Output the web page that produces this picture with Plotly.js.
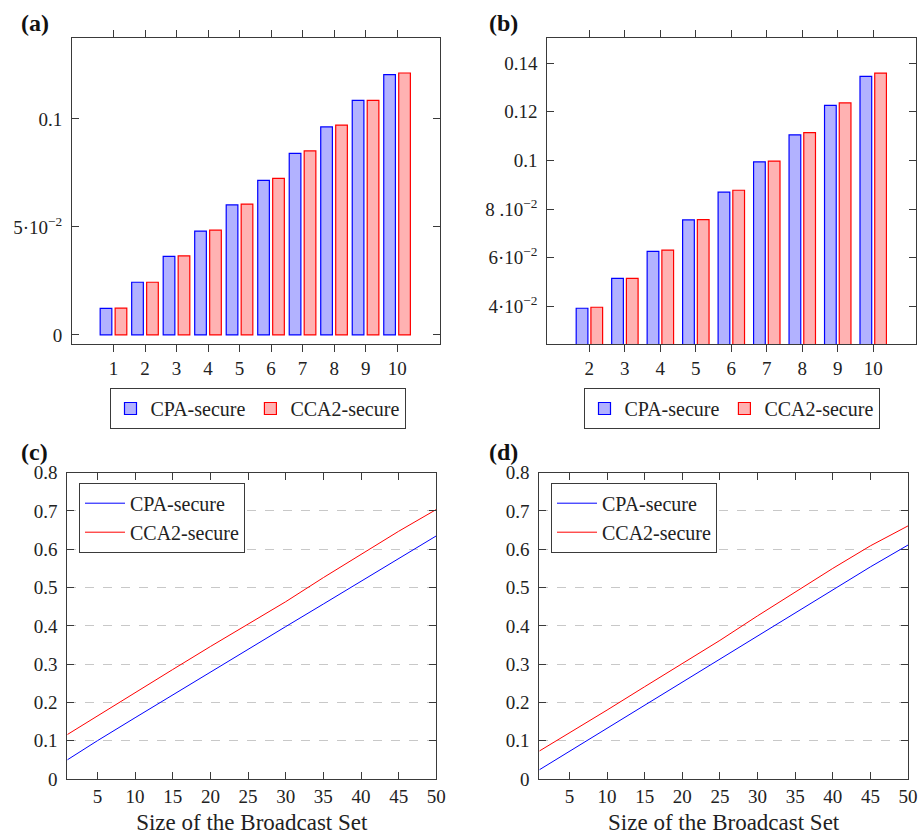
<!DOCTYPE html>
<html>
<head>
<meta charset="utf-8">
<script src="https://cdn.plot.ly/plotly-3.0.1.min.js"></script>
<style>html,body{margin:0;padding:0;background:#fff;}#chart{width:918px;height:835px;}</style>
</head>
<body>
<div id="chart"></div>
<script>
// ---- data ----
const seriesNames = ['CPA-secure', 'CCA2-secure'];

const setSizesA = [1, 2, 3, 4, 5, 6, 7, 8, 9, 10];
const cpaA  = [0.0123, 0.0244, 0.0364, 0.0481, 0.0602, 0.0716, 0.0841, 0.0963, 0.1086, 0.1205];
const cca2A = [0.0124, 0.0244, 0.0366, 0.0485, 0.0606, 0.0725, 0.0852, 0.0972, 0.1086, 0.1213];
const yTickValsA = [0, 0.05, 0.1];
const yTickTextA = ['0', '5·10<sup>−2</sup>', '0.1'];

const setSizesB = [2, 3, 4, 5, 6, 7, 8, 9, 10];
const cpaB  = [0.0392, 0.0515, 0.0626, 0.0755, 0.0869, 0.0994, 0.1105, 0.1226, 0.1345];
const cca2B = [0.0396, 0.0515, 0.0631, 0.0756, 0.0877, 0.0997, 0.1114, 0.1236, 0.1359];
const yTickValsB = [0.04, 0.06, 0.08, 0.1, 0.12, 0.14];
const yTickTextB = ['4·10<sup>−2</sup>', '6·10<sup>−2</sup>', '8 .10<sup>−2</sup>', '0.1', '0.12', '0.14'];

const setSizesLine = [1, 5, 10, 15, 20, 25, 30, 35, 40, 45, 50];
const cpaC  = [0.050, 0.100, 0.160, 0.220, 0.280, 0.340, 0.398, 0.457, 0.517, 0.577, 0.635];
const cca2C = [0.116, 0.165, 0.226, 0.286, 0.346, 0.405, 0.463, 0.526, 0.587, 0.647, 0.704];
const cpaD  = [0.024, 0.072, 0.133, 0.193, 0.253, 0.313, 0.372, 0.433, 0.494, 0.554, 0.611];
const cca2D = [0.073, 0.120, 0.180, 0.241, 0.302, 0.362, 0.426, 0.489, 0.550, 0.609, 0.661];
const xTickValsLine = [5, 10, 15, 20, 25, 30, 35, 40, 45, 50];
const xTitle = 'Size of the Broadcast Set';
const panelLabels = ['(a)', '(b)', '(c)', '(d)'];

// ---- styling ----
const FONT = 'Liberation Serif, Times New Roman, serif';
const BLUE = '#0000ff', RED = '#ff0000';
const BLUE_FILL = 'rgba(0,0,255,0.3)', RED_FILL = 'rgba(255,0,0,0.3)';
const FRAME = '#3a3a3a';

function barTrace(x, y, i, xa, ya, leg, offset, width) {
  return {
    type: 'bar', x: x, y: y, name: seriesNames[i], xaxis: xa, yaxis: ya, legend: leg,
    offset: offset, width: width,
    marker: {color: i === 0 ? BLUE_FILL : RED_FILL, line: {color: i === 0 ? BLUE : RED, width: 1.2}}
  };
}
function lineTrace(x, y, i, xa, ya, leg) {
  return {
    type: 'scatter', mode: 'lines', x: x, y: y, name: seriesNames[i], xaxis: xa, yaxis: ya, legend: leg,
    line: {color: i === 0 ? BLUE : RED, width: 1}
  };
}

const traces = [
  barTrace(setSizesA, cpaA, 0, 'x', 'y', 'legend', -0.425, 0.37),
  barTrace(setSizesA, cca2A, 1, 'x', 'y', 'legend', 0.05, 0.37),
  barTrace(setSizesB, cpaB, 0, 'x2', 'y2', 'legend2', -0.37, 0.33),
  barTrace(setSizesB, cca2B, 1, 'x2', 'y2', 'legend2', 0.045, 0.33),
  lineTrace(setSizesLine, cpaC, 0, 'x3', 'y3', 'legend3'),
  lineTrace(setSizesLine, cca2C, 1, 'x3', 'y3', 'legend3'),
  lineTrace(setSizesLine, cpaD, 0, 'x4', 'y4', 'legend4'),
  lineTrace(setSizesLine, cca2D, 1, 'x4', 'y4', 'legend4')
];

const tickFont = {family: FONT, size: 19, color: '#222'};
function axBase(extra) {
  return Object.assign({
    showline: true, linecolor: FRAME, linewidth: 1, mirror: 'ticks',
    ticklen: 7, tickwidth: 1, tickcolor: FRAME, tickfont: tickFont,
    showgrid: false, zeroline: false, fixedrange: true, ticklabeloverflow: 'allow'
  }, extra);
}

const H = 779; // plotting height (bottom margin 56)
const py = p => (H - p) / H;

const legendCommon = {
  bgcolor: '#fff', bordercolor: FRAME, borderwidth: 1,
  font: {family: FONT, size: 20, color: '#222'}
};

const layout = {
  width: 918, height: 835,
  margin: {l: 0, r: 0, t: 0, b: 56, pad: 0},
  paper_bgcolor: '#fff', plot_bgcolor: '#fff',
  barmode: 'overlay',
  font: {family: FONT, color: '#222'},
  xaxis: axBase({domain: [0.0784, 0.4793], anchor: 'y', range: [-0.32, 11.36], tickvals: setSizesA, ticks: 'outside'}),
  yaxis: axBase({domain: [py(344), py(38)], anchor: 'x', range: [-0.0042, 0.1375], tickvals: yTickValsA, ticktext: yTickTextA, ticks: 'inside', ticklabelstandoff: 5}),
  xaxis2: axBase({domain: [0.5962, 0.9975], anchor: 'y2', range: [0.816, 11.2], tickvals: setSizesB, ticks: 'outside'}),
  yaxis2: axBase({domain: [py(344), py(38)], anchor: 'x2', range: [0.0245, 0.1503], tickvals: yTickValsB, ticktext: yTickTextB, ticks: 'inside', ticklabelstandoff: 5}),
  xaxis3: axBase({domain: [0.0733, 0.4753], anchor: 'y3', range: [1, 50], tickvals: xTickValsLine, ticks: 'inside',
    title: {text: xTitle, font: {family: FONT, size: 23, color: '#222'}, standoff: 10}}),
  yaxis3: axBase({domain: [0, py(472.7)], anchor: 'x3', range: [0, 0.8], dtick: 0.1, ticks: 'inside', ticklabelstandoff: 5,
    showgrid: true, gridcolor: '#c8c8c8', griddash: 'dash', gridwidth: 1}),
  xaxis4: axBase({domain: [0.5875, 0.9891], anchor: 'y4', range: [1, 50], tickvals: xTickValsLine, ticks: 'inside',
    title: {text: xTitle, font: {family: FONT, size: 23, color: '#222'}, standoff: 10}}),
  yaxis4: axBase({domain: [0, py(472.7)], anchor: 'x4', range: [0, 0.8], dtick: 0.1, ticks: 'inside', ticklabelstandoff: 5,
    showgrid: true, gridcolor: '#c8c8c8', griddash: 'dash', gridwidth: 1}),
  legend: Object.assign({}, legendCommon, {orientation: 'h', x: 257.5/918, xanchor: 'center', y: py(388), yanchor: 'top'}),
  legend2: Object.assign({}, legendCommon, {orientation: 'h', x: 731.5/918, xanchor: 'center', y: py(388), yanchor: 'top'}),
  legend3: Object.assign({}, legendCommon, {orientation: 'v', x: 79/918, xanchor: 'left', y: py(482.7), yanchor: 'top', tracegroupgap: 0, itemwidth: 40}),
  legend4: Object.assign({}, legendCommon, {orientation: 'v', x: 551/918, xanchor: 'left', y: py(482.7), yanchor: 'top', tracegroupgap: 0, itemwidth: 40}),
  annotations: [
    {text: '<b>' + panelLabels[0] + '</b>', x: 19/918, y: py(8), xref: 'paper', yref: 'paper', xanchor: 'left', yanchor: 'top', showarrow: false, font: {family: FONT, size: 24, color: '#111'}},
    {text: '<b>' + panelLabels[1] + '</b>', x: 487/918, y: py(8), xref: 'paper', yref: 'paper', xanchor: 'left', yanchor: 'top', showarrow: false, font: {family: FONT, size: 24, color: '#111'}},
    {text: '<b>' + panelLabels[2] + '</b>', x: 19/918, y: py(437), xref: 'paper', yref: 'paper', xanchor: 'left', yanchor: 'top', showarrow: false, font: {family: FONT, size: 24, color: '#111'}},
    {text: '<b>' + panelLabels[3] + '</b>', x: 487/918, y: py(437), xref: 'paper', yref: 'paper', xanchor: 'left', yanchor: 'top', showarrow: false, font: {family: FONT, size: 24, color: '#111'}}
  ]
};

Plotly.newPlot('chart', traces, layout, {displayModeBar: false, staticPlot: true});
</script>
</body>
</html>
